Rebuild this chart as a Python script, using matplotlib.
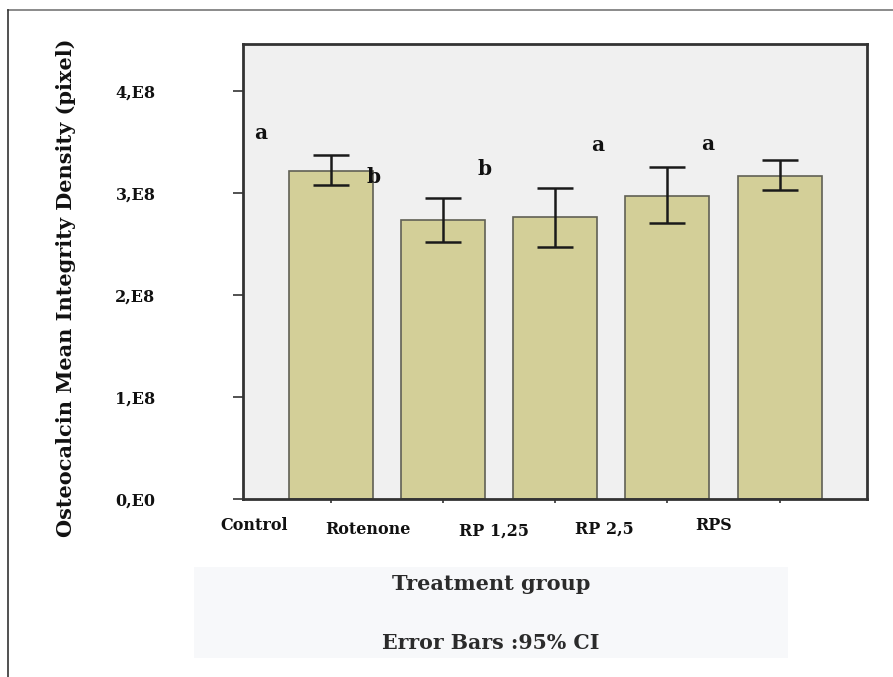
import numpy as np
import matplotlib.pyplot as plt
from matplotlib.patches import Rectangle
from matplotlib.lines import Line2D
import matplotlib.transforms as mtransforms

groups = ['Control', 'Rotenone', 'RP 1,25', 'RP 2,5', 'RPS']
means = [3.22e8, 2.73e8, 2.76e8, 2.97e8, 3.17e8]
ci_low = [3.08e8, 2.52e8, 2.47e8, 2.71e8, 3.03e8]
ci_high = [3.37e8, 2.95e8, 3.05e8, 3.25e8, 3.32e8]
letters = ['a', 'b', 'b', 'a', 'a']
letter_x = [-0.63, 0.38, 1.37, 2.38, 3.36]
letter_y = [3.59e8, 3.16e8, 3.23e8, 3.47e8, 3.48e8]
label_x = [-0.69, 0.33, 1.45, 2.44, 3.41]
yticks = [0, 1e8, 2e8, 3e8, 4e8]
ytick_labels = ['0,E0', '1,E8', '2,E8', '3,E8', '4,E8']

W, H = 893, 677
fig = plt.figure(figsize=(W / 100, H / 100), dpi=100)
ax = fig.add_axes([243 / W, 1 - 499 / H, (867 - 243) / W, (499 - 44) / H])

font = 'DejaVu Serif'
x = np.arange(len(groups))
means = np.array(means)
yerr = [means - np.array(ci_low), np.array(ci_high) - means]

ax.set_facecolor('#f0f0f0')
ax.bar(x, means, width=0.75, color='#d3cf98', edgecolor='#606055', linewidth=1.2, zorder=2)
ax.errorbar(x, means, yerr=yerr, fmt='none', ecolor='#1a1a1a', elinewidth=1.8,
            capsize=13, capthick=1.8, zorder=3)

ax.set_xlim(-0.786, 4.78)
ax.set_ylim(0, 4.46e8)
ax.set_yticks(yticks)
ax.set_yticklabels(ytick_labels, fontfamily=font, fontweight='bold', fontsize=11.5)
ax.tick_params(axis='y', length=7, width=1.2, pad=56, colors='#333333', labelcolor='#111111')
ax.set_xticks(x)
ax.set_xticklabels([''] * len(groups))
ax.tick_params(axis='x', length=3, width=1.2, colors='#333333')
for s in ax.spines.values():
    s.set_color('#333333')
    s.set_linewidth(2)

for lx, ly, t in zip(letter_x, letter_y, letters):
    ax.text(lx, ly, t, ha='center', va='center', fontfamily=font, fontweight='bold',
            fontsize=14.5, color='#111111')

trans = mtransforms.blended_transform_factory(ax.transData, fig.transFigure)
label_y = [526, 530, 531, 529, 525]
for lx, py, g in zip(label_x, label_y, groups):
    ax.text(lx, 1 - py / H, g, transform=trans, ha='center', va='center', fontfamily=font,
            fontweight='bold', fontsize=11.5, color='#111111')

fig.text(66 / W, 1 - 288 / H, 'Osteocalcin Mean Integrity Density (pixel)', rotation=90,
         ha='center', va='center', fontfamily=font, fontweight='bold', fontsize=15, color='#111111')

# caption box
fig.patches.append(Rectangle((194 / W, 1 - 658 / H), (788 - 194) / W, (658 - 567) / H,
                             transform=fig.transFigure, facecolor='#f7f8fa', edgecolor='none', zorder=0))
fig.text(491 / W, 1 - 584 / H, 'Treatment group', ha='center', va='center', fontfamily=font,
         fontweight='bold', fontsize=15, color='#2b2b2b')
fig.text(491 / W, 1 - 643 / H, 'Error Bars :95% CI', ha='center', va='center', fontfamily=font,
         fontweight='bold', fontsize=14.8, color='#2b2b2b')

# outer frame (top and left edges)
fig.add_artist(Line2D([8 / W, 1], [1 - 10 / H, 1 - 10 / H], transform=fig.transFigure, color='#777777', lw=1.2))
fig.add_artist(Line2D([8 / W, 8 / W], [0, 1 - 10 / H], transform=fig.transFigure, color='#333333', lw=1.2))

fig.savefig('out.png', dpi=100)
